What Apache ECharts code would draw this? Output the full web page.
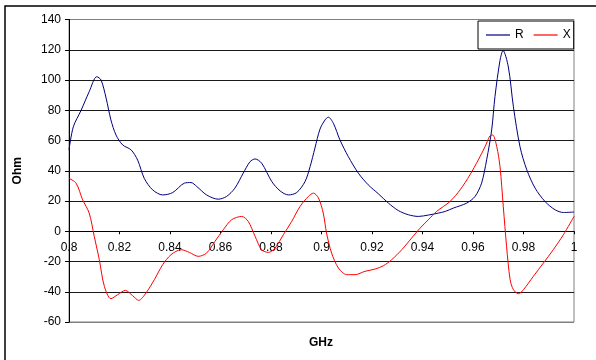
<!DOCTYPE html>
<html>
<head>
<meta charset="utf-8">
<script src="https://cdn.jsdelivr.net/npm/echarts@6/dist/echarts.min.js"></script>
<style>
  html, body { margin: 0; padding: 0; background: #fff; }
  #chart { width: 596px; height: 360px; }
</style>
</head>
<body>
<div id="chart"></div>
<script>
// Resistance (R) samples: frequency in GHz, value in Ohm
var rFreq = [0.8000, 0.8017, 0.8048, 0.8080, 0.8110, 0.8127, 0.8147, 0.8166, 0.8186, 0.8213,
  0.8246, 0.8272, 0.8298, 0.8331, 0.8371, 0.8411, 0.8457, 0.8483, 0.8506, 0.8545,
  0.8591, 0.8624, 0.8657, 0.8690, 0.8717, 0.8737, 0.8763, 0.8803, 0.8836, 0.8869,
  0.8902, 0.8935, 0.8955, 0.8974, 0.8994, 0.9014, 0.9027, 0.9047, 0.9073, 0.9106,
  0.9146, 0.9185, 0.9225, 0.9265, 0.9304, 0.9344, 0.9384, 0.9423, 0.9463, 0.9490,
  0.9522, 0.9575, 0.9608, 0.9634, 0.9654, 0.9674, 0.9687, 0.9707, 0.9719, 0.9740,
  0.9760, 0.9786, 0.9813, 0.9846, 0.9885, 0.9925, 0.9958, 1.0000];
var rVals = [53.8, 69, 80, 92.3, 102.2, 100, 88, 73.6, 63.7, 57,
  53.8, 47, 35, 27.4, 24, 25.6, 31.8, 32.2, 29.6, 24,
  21.2, 23, 28.5, 38.4, 46, 47.8, 45, 32.9, 26.7, 24,
  25.6, 32.9, 42.8, 55, 67.5, 73.6, 75.4, 71.4, 60.4, 49.4,
  38.4, 30.7, 24.8, 18.6, 13.7, 10.9, 9.8, 10.7, 12.0, 13.1,
  15.3, 18.6, 23, 31.8, 47.2, 67, 89, 113, 119.5, 108.6,
  82.3, 56, 40.6, 28.5, 19.7, 14.2, 12.4, 12.7];

// Reactance (X) samples
var xFreq = [0.8000, 0.8028, 0.8054, 0.8080, 0.8100, 0.8120, 0.8140, 0.8166, 0.8193, 0.8223,
  0.8252, 0.8276, 0.8305, 0.8338, 0.8371, 0.8404, 0.8444, 0.8477, 0.8512, 0.8545,
  0.8578, 0.8611, 0.8644, 0.8684, 0.8710, 0.8737, 0.8763, 0.8790, 0.8816, 0.8849,
  0.8882, 0.8915, 0.8948, 0.8968, 0.8988, 0.9007, 0.9020, 0.9040, 0.9067, 0.9100,
  0.9133, 0.9172, 0.9212, 0.9245, 0.9278, 0.9318, 0.9357, 0.9390, 0.9423, 0.9456,
  0.9509, 0.9549, 0.9588, 0.9621, 0.9648, 0.9667, 0.9678, 0.9694, 0.9707, 0.9720,
  0.9733, 0.9747, 0.9760, 0.9780, 0.9800, 0.9839, 0.9879, 0.9918, 0.9958, 1.0000];
var xVals = [35, 31.8, 20.8, 12, -3.4, -18.8, -36.4, -44.6, -41.9, -39.1,
  -42.6, -45.7, -40.8, -32, -22.1, -15.5, -12.2, -14, -16.6, -14.4,
  -6.7, 1, 7.6, 9.8, 6.5, -3.4, -12.2, -14, -11.1, -2.3,
  6.5, 16.4, 23, 25.2, 22, 12, -1.2, -14.4, -24.3, -28.7,
  -28.7, -26.5, -25, -22.8, -18.8, -12.2, -4.5, 2, 7.6, 13.1,
  19.7, 27.4, 37.3, 47.2, 56, 63, 63.6, 56, 42.6, 16.2,
  -10, -32, -38.6, -41.3, -38.6, -29.8, -21, -12.2, -2.3, 9.8];

var seriesNames = ['R', 'X'];
var yTicks = [-60, -40, -20, 0, 20, 40, 60, 80, 100, 120, 140];

function pairs(fs, vs) {
  return fs.map(function (f, i) { return [f, vs[i]]; });
}

var FONT = '"Liberation Sans", Arial, sans-serif';
var chart = echarts.init(document.getElementById('chart'), null, { renderer: 'canvas' });

var GRID_TOP = 19.5, GRID_BOTTOM = 38, CHART_H = 360;
var plotH = CHART_H - GRID_TOP - GRID_BOTTOM;
var yMin = yTicks[0], yMax = yTicks[yTicks.length - 1];
// distance from the plot bottom up to the zero line, so the frequency axis sits at 0 Ohm
var zeroLift = plotH * (0 - yMin) / (yMax - yMin);

// grey for the outer plot edges, black for the inner gridlines
var splitColors = yTicks.map(function (t, i) {
  return (i === 0 || i === yTicks.length - 1) ? '#808080' : '#1a1a1a';
});

chart.setOption({
  animation: false,
  backgroundColor: '#ffffff',
  grid: {
    left: 69, right: 22, top: GRID_TOP, bottom: GRID_BOTTOM,
    show: true, borderColor: '#808080', borderWidth: 1, backgroundColor: 'transparent'
  },
  legend: {
    data: seriesNames,
    left: 478, top: 21,
    padding: [8, 3, 8, 8],
    itemGap: 10,
    itemWidth: 24, itemHeight: 1.2,
    icon: 'rect',
    backgroundColor: '#ffffff',
    borderColor: '#000000', borderWidth: 1,
    textStyle: { fontFamily: FONT, fontSize: 12, color: '#000' }
  },
  xAxis: {
    type: 'value',
    min: 0.8, max: 1.0, interval: 0.02,
    position: 'bottom',
    offset: -zeroLift,
    axisLine: { show: true, onZero: false, lineStyle: { color: '#000', width: 1 } },
    axisTick: { show: true, length: 3, lineStyle: { color: '#000' } },
    axisLabel: {
      margin: 10, fontFamily: FONT, fontSize: 12, color: '#000',
      formatter: function (v) { return String(parseFloat(v.toFixed(2))); }
    },
    splitLine: { show: false }
  },
  yAxis: {
    type: 'value',
    min: yMin, max: yMax, interval: 20,
    name: 'Ohm', nameLocation: 'middle', nameGap: 45,
    nameTextStyle: { fontFamily: FONT, fontSize: 12, fontWeight: 'bold', color: '#000' },
    axisLine: { show: true, onZero: false, lineStyle: { color: '#000', width: 1 } },
    axisTick: { show: true, length: 4, lineStyle: { color: '#000' } },
    axisLabel: { margin: 8, fontFamily: FONT, fontSize: 12, color: '#000' },
    splitLine: { show: true, lineStyle: { color: splitColors, width: 1 } }
  },
  series: [
    {
      name: seriesNames[0], type: 'line', data: pairs(rFreq, rVals),
      showSymbol: false, smooth: 0.3, z: 2,
      lineStyle: { color: '#000080', width: 1 }, itemStyle: { color: '#000080' }
    },
    {
      name: seriesNames[1], type: 'line', data: pairs(xFreq, xVals),
      showSymbol: false, smooth: 0.3, z: 2,
      lineStyle: { color: '#ff0000', width: 1 }, itemStyle: { color: '#ff0000' }
    }
  ],
  graphic: [
    {
      type: 'rect', silent: true, z: 0,
      shape: { x: 5, y: 6, width: 700, height: 500 },
      style: { fill: 'none', stroke: '#000', lineWidth: 1.5 }
    },
    {
      type: 'text', left: 309, top: 337, silent: true,
      style: { text: 'GHz', fontFamily: FONT, fontSize: 12, fontWeight: 'bold', fill: '#000' }
    }
  ]
});
</script>
</body>
</html>
